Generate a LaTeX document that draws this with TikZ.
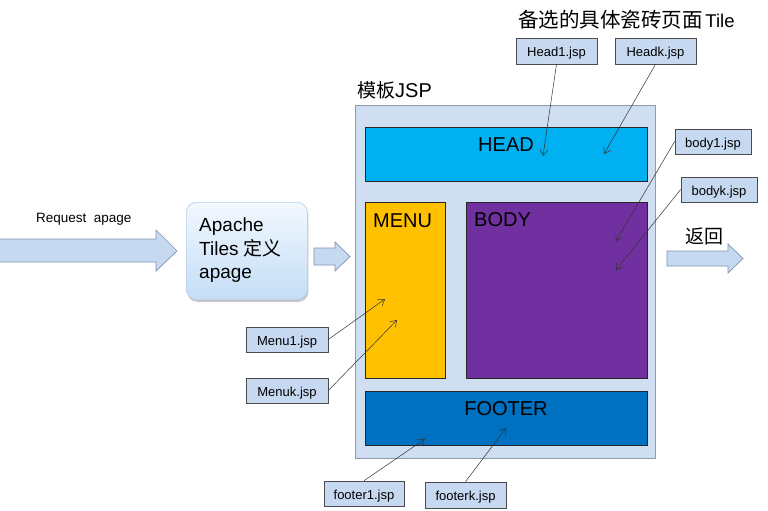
\documentclass[tikz,border=0pt]{standalone}
\usepackage{fontspec}
\setmainfont{Liberation Sans}
\newfontfamily\cjk{Noto Sans CJK SC}
\usetikzlibrary{arrows.meta,shadows}
\definecolor{frameblue}{HTML}{D0DEF2}
\definecolor{framegray}{HTML}{8E9BAE}
\definecolor{tileblue}{HTML}{C6D9F1}
\definecolor{arrowedge}{HTML}{7F93AE}
\definecolor{headc}{HTML}{00B0F0}
\definecolor{menuc}{HTML}{FFC000}
\definecolor{bodyc}{HTML}{7030A0}
\definecolor{footc}{HTML}{0070C0}
\definecolor{apTop}{HTML}{F2F8FE}
\definecolor{apBot}{HTML}{C4DDF6}
\definecolor{apEdge}{HTML}{B7D2EE}
\tikzset{
  jsp/.style={draw=black!70, fill=tileblue, inner sep=0pt, line width=0.7pt,
    text height=11pt, text depth=0pt, font=\fontsize{13}{15}\selectfont},
  ptr/.style={draw=black!80, line width=0.5pt,
    -{Straight Barb[length=6pt,width=8pt,line width=0.5pt]}},
  region/.style={draw=black!85, line width=0.6pt, inner sep=0pt, anchor=north west},
  lbl/.style={font=\fontsize{20}{24}\selectfont, inner sep=0pt},
  blockarrow/.style={fill=tileblue, draw=arrowedge, line width=0.7pt},
}
\begin{document}
\begin{tikzpicture}[x=1pt,y=-1pt]
\useasboundingbox[fill=white] (0,0) rectangle (768,511);

% block arrows
\draw[blockarrow] (-2,239) -- (156,239) -- (156,230) -- (177,251) -- (156,271) -- (156,262) -- (-2,262) -- cycle;
\draw[blockarrow] (314,248) -- (335,248) -- (335,242) -- (350,256.5) -- (335,271) -- (335,265) -- (314,265) -- cycle;
\draw[blockarrow] (667,251) -- (728,251) -- (728,244) -- (743,258.5) -- (728,273) -- (728,266) -- (667,266) -- cycle;

% texts outside
\node[anchor=base west, inner sep=0pt, font=\fontsize{13.5}{16}\selectfont] (req) at (36,222.5) {Request\ \ apage};
\node[anchor=base west, inner sep=0pt] (title) at (518,27.5) {{\cjk\fontsize{20.5}{24}\selectfont 备选的具体瓷砖页面} {\fontsize{18.5}{22}\selectfont Tile}};
\node[anchor=base west, inner sep=0pt] (tpllbl) at (357,97) {{\cjk\fontsize{19}{23}\selectfont 模板}{\fontsize{20}{24}\selectfont JSP}};
\node[anchor=base west, inner sep=0pt, font=\cjk\fontsize{19}{23}\selectfont] (ret) at (685,243.5) {返回};

% Apache Tiles box
\node[rounded corners=10pt, draw=apEdge, line width=0.7pt, top color=apTop, bottom color=apBot,
      minimum width=121pt, minimum height=97pt, inner sep=0pt, anchor=north west,
      drop shadow={shadow xshift=1pt, shadow yshift=-2.5pt, opacity=0.22, fill=black}] (apache) at (186,202) {};
\node[anchor=base west, inner sep=0pt, font=\fontsize{19}{23}\selectfont] (ap1) at (199,231) {Apache};
\node[anchor=base west, inner sep=0pt, font=\fontsize{19}{23}\selectfont] (ap2) at (199,255) {Tiles {\cjk 定义}};
\node[anchor=base west, inner sep=0pt, font=\fontsize{19}{23}\selectfont] (ap3) at (199,278) {apage};

% template container
\node[draw=framegray, fill=frameblue, line width=0.8pt, minimum width=300pt, minimum height=353pt,
      inner sep=0pt, anchor=north west] (tpl) at (355,105) {};
\node[region, fill=headc, minimum width=282pt, minimum height=54pt] (head) at (365,127) {};
\node[lbl, anchor=base] (headt) at (506,151) {HEAD};
\node[region, fill=menuc, minimum width=80pt, minimum height=176pt] (menu) at (365,202) {};
\node[lbl, anchor=base west] (menut) at (373,227) {MENU};
\node[region, fill=bodyc, minimum width=181pt, minimum height=176pt] (body) at (466,202) {};
\node[lbl, anchor=base west] (bodyt) at (474,226) {BODY};
\node[region, fill=footc, minimum width=282pt, minimum height=54pt] (foot) at (365,391) {};
\node[lbl, anchor=base] (foott) at (506,415) {FOOTER};

% tile files
\node[jsp, minimum width=81pt, minimum height=26pt] (h1) at (556.5,51) {Head1.jsp};
\node[jsp, minimum width=81pt, minimum height=26pt] (hk) at (655.5,51) {Headk.jsp};
\node[jsp, minimum width=76pt, minimum height=25pt] (b1) at (713,141.5) {body1.jsp};
\node[jsp, minimum width=76pt, minimum height=25pt] (bk) at (719,189.5) {bodyk.jsp};
\node[jsp, minimum width=82pt, minimum height=25pt] (m1) at (287,339.5) {Menu1.jsp};
\node[jsp, minimum width=82pt, minimum height=25pt] (mk) at (287,390.5) {Menuk.jsp};
\node[jsp, minimum width=80pt, minimum height=25pt] (f1) at (364,493.5) {footer1.jsp};
\node[jsp, minimum width=81pt, minimum height=26pt] (fk) at (465.5,495) {footerk.jsp};

% targets
\coordinate (th1) at (543,156);
\coordinate (thk) at (604,154);
\coordinate (tb1) at (616,241);
\coordinate (tbk) at (616,270);
\coordinate (tm1) at (385,299);
\coordinate (tmk) at (397,320);
\coordinate (tf1) at (425,439);
\coordinate (tfk) at (506,428);

\draw[ptr] (h1.south) -- (th1);
\draw[ptr] (hk.south) -- (thk);
\draw[ptr] (b1.west) -- (tb1);
\draw[ptr] (bk.west) -- (tbk);
\draw[ptr] (m1.east) -- (tm1);
\draw[ptr] (mk.east) -- (tmk);
\draw[ptr] (f1.north) -- (tf1);
\draw[ptr] (fk.north) -- (tfk);
\end{tikzpicture}
\end{document}
